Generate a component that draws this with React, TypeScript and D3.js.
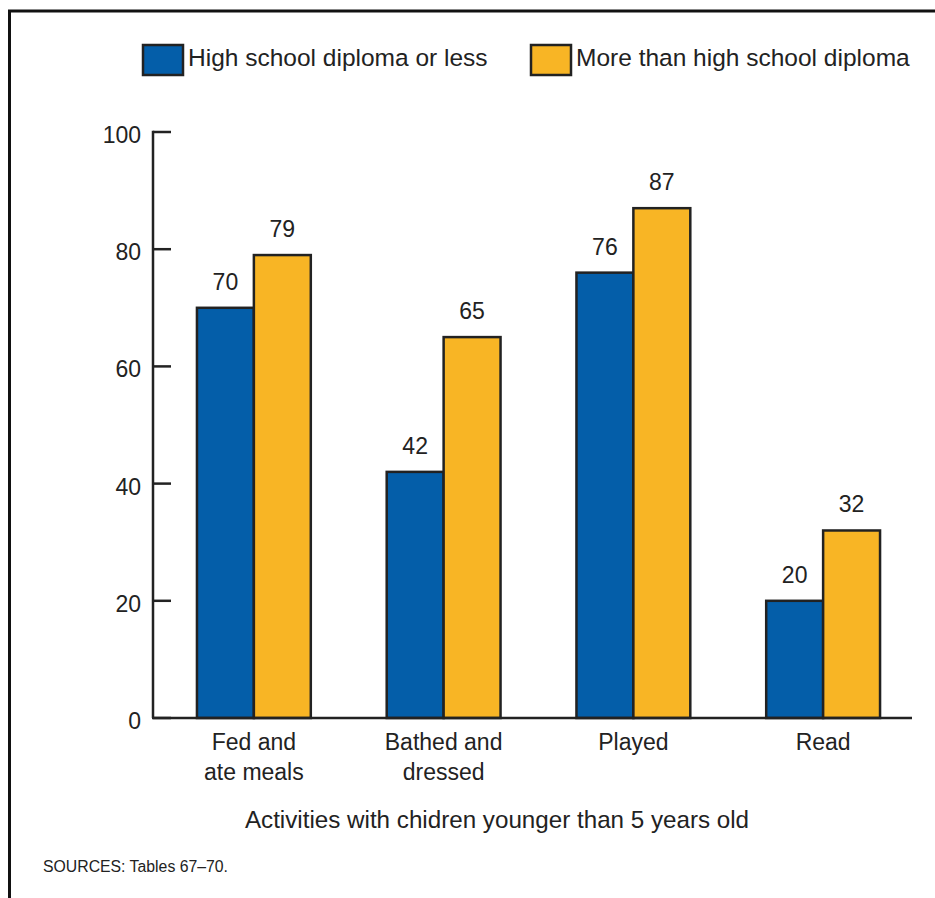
import React from "react";
import * as d3 from "d3";

const categories = ["Fed and|ate meals", "Bathed and|dressed", "Played", "Read"];
const seriesNames = ["High school diploma or less", "More than high school diploma"];
const hsOrLess = [70, 42, 76, 20];
const moreThanHs = [79, 65, 87, 32];
const yTicks = [0, 20, 40, 60, 80, 100];
const colors = ["#045EA9", "#F8B525"];
const axisTitle = "Activities with chidren younger than 5 years old";
const sourceNote = "SOURCES: Tables 67\u201370.";

const W = 935;
const H = 898;
const FONT = "'Liberation Sans', Arial, Helvetica, sans-serif";
const INK = "#222";

export default function App() {
  const y = d3.scaleLinear().domain([0, 100]).range([718, 132]);
  const x0 = d3
    .scaleBand<string>()
    .domain(categories)
    .range([159, 918])
    .paddingInner(0.4)
    .paddingOuter(0.2);
  const x1 = d3
    .scaleBand<number>()
    .domain([0, 1])
    .range([0, x0.bandwidth()])
    .padding(0);
  const series = [hsOrLess, moreThanHs];

  return (
    <svg
      width={W}
      height={H}
      style={{ position: "absolute", left: 0, top: 0, background: "#fff" }}
      fontFamily={FONT}
    >
      <rect x={0} y={0} width={W} height={H} fill="#fff" />
      {/* frame */}
      <rect x={9.5} y={11} width={1000} height={1000} fill="none" stroke="#111" strokeWidth={3} />

      {/* legend */}
      {seriesNames.map((name, i) => {
        const lx = i === 0 ? 143 : 531;
        return (
          <g key={name}>
            <rect x={lx} y={45} width={40} height={30} fill={colors[i]} stroke={INK} strokeWidth={2.5} />
            <text x={lx + 45} y={66} fontSize={24.5} fill={INK}>
              {name}
            </text>
          </g>
        );
      })}

      {/* y axis */}
      <line x1={153} x2={153} y1={y(100) - 1.25} y2={y(0)} stroke={INK} strokeWidth={2.5} />
      {yTicks.map((t) => (
        <g key={t}>
          <line x1={153} x2={171} y1={y(t)} y2={y(t)} stroke={INK} strokeWidth={2.5} />
          <text x={141} y={y(t) + 11} textAnchor="end" fontSize={23} fill={INK}>
            {t}
          </text>
        </g>
      ))}

      {/* bars */}
      {categories.map((c, ci) => (
        <g key={c} transform={`translate(${x0(c)},0)`}>
          {series.map((s, si) => {
            const bx = x1(si) as number;
            const bw = x1.bandwidth();
            return (
              <g key={si}>
                <rect
                  x={bx}
                  y={y(s[ci])}
                  width={bw}
                  height={y(0) - y(s[ci])}
                  fill={colors[si]}
                  stroke={INK}
                  strokeWidth={2.5}
                />
                <text
                  x={bx + bw / 2}
                  y={y(s[ci]) - 18}
                  textAnchor="middle"
                  fontSize={23}
                  fill={INK}
                >
                  {s[ci]}
                </text>
              </g>
            );
          })}
        </g>
      ))}

      {/* baseline */}
      <line x1={152} x2={912} y1={y(0)} y2={y(0)} stroke={INK} strokeWidth={2.7} />

      {/* category labels */}
      {categories.map((c) => {
        const cx = (x0(c) as number) + x0.bandwidth() / 2;
        return (
          <text key={c} x={cx} textAnchor="middle" fontSize={23} fill={INK}>
            {c.split("|").map((line, li) => (
              <tspan key={li} x={cx} y={750 + li * 30}>
                {line}
              </tspan>
            ))}
          </text>
        );
      })}

      {/* axis title */}
      <text x={497} y={828} textAnchor="middle" fontSize={24.2} fill={INK}>
        {axisTitle}
      </text>

      {/* source */}
      <text x={43} y={872} fontSize={15.8} fill={INK}>
        {sourceNote}
      </text>
    </svg>
  );
}
